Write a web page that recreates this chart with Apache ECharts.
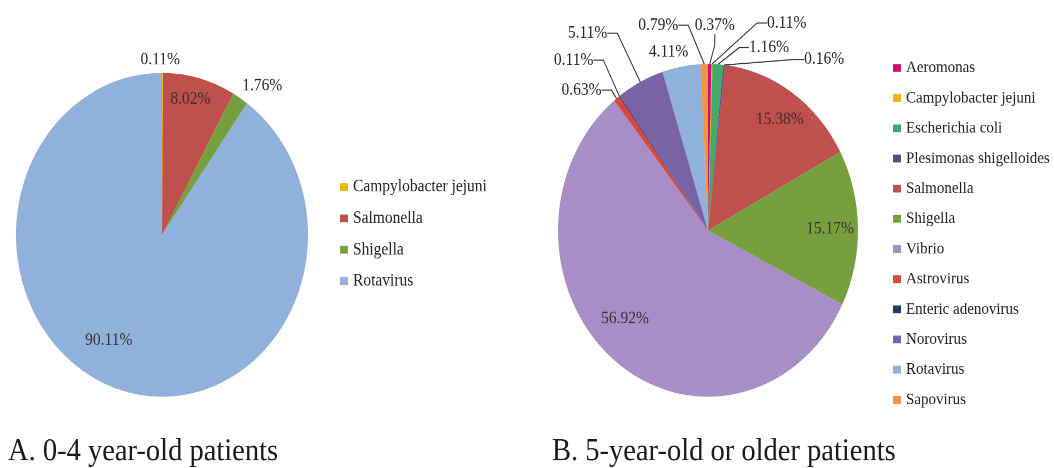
<!DOCTYPE html>
<html>
<head>
<meta charset="utf-8">
<script src="https://cdn.jsdelivr.net/npm/echarts@6/dist/echarts.min.js"></script>
<style>
  html { margin: 0; padding: 0; overflow: hidden; background: #ffffff; }
  body { margin: 0; padding: 0; width: 1054px; height: 468px; background: #ffffff; }
  #chart { width: 1054px; height: 422px; transform: scaleY(1.109); transform-origin: 0 0; }
</style>
</head>
<body>
<div id="chart"></div>
<script>
// ---- data ----
const namesA = ['Campylobacter jejuni', 'Salmonella', 'Shigella', 'Rotavirus'];
const valuesA = [0.11, 8.02, 1.76, 90.11];

const namesB = ['Aeromonas', 'Campylobacter jejuni', 'Escherichia coli', 'Plesimonas shigelloides',
  'Salmonella', 'Shigella', 'Vibrio', 'Astrovirus', 'Enteric adenovirus', 'Norovirus', 'Rotavirus', 'Sapovirus'];
const valuesB = [0.37, 0.11, 1.16, 0.16, 15.38, 15.17, 56.92, 0.63, 0.11, 5.11, 4.11, 0.79];

const titleA = 'A. 0-4 year-old patients';
const titleB = 'B. 5-year-old or older patients';

// ---- style ----
const colorMap = {
  'Aeromonas': '#C8146E',
  'Campylobacter jejuni': '#EFB60F',
  'Escherichia coli': '#45A96A',
  'Plesimonas shigelloides': '#5B4A8A',
  'Salmonella': '#C0504D',
  'Shigella': '#76A03E',
  'Vibrio': '#A98DC6',
  'Astrovirus': '#D9483B',
  'Enteric adenovirus': '#1F3B5C',
  'Norovirus': '#7A62A7',
  'Rotavirus': '#8FB1DC',
  'Sapovirus': '#F39443'
};
const FONT = 'Liberation Serif';

// label placement per slice: [position, showLine, shiftX, shiftY]
const labelStyleA = [
  ['outside', false, -37, -12],
  ['inside', false, 9, -49],
  ['outside', false, -13, -11],
  ['inside', false, -30, 23]
];
const labelStyleB = [
  ['outside', true, -30, -35],
  ['outside', true, 40, -37],
  ['outside', true, 16, -15],
  ['outside', true, 65, -5],
  ['inside', false, 28, -35],
  ['inside', false, 44, 0],
  ['inside', false, -34, 19],
  ['outside', true, 0, -7.5],
  ['outside', true, -11, -32.5],
  ['outside', true, -18, -44],
  ['outside', false, 22, -13],
  ['outside', true, -11, -35]
];

function buildData(names, values, styles) {
  return names.map((n, i) => ({
    name: n,
    value: values[i],
    itemStyle: { color: colorMap[n] },
    label: { position: styles[i][0], color: styles[i][0] === 'inside' ? '#3a3030' : '#262626' },
    labelLine: { show: styles[i][1] }
  }));
}

function makeLayout(styles) {
  return function (p) {
    const s = styles[p.dataIndex];
    if (!s) return {};
    return {
      x: p.labelRect.x + p.labelRect.width / 2 + s[2],
      y: p.labelRect.y + p.labelRect.height / 2 + s[3],
      align: 'center',
      verticalAlign: 'middle'
    };
  };
}

const pieCommon = {
  type: 'pie',
  startAngle: 90,
  clockwise: true,
  avoidLabelOverlap: false,
  silent: true,
  emphasis: { disabled: true },
  itemStyle: { borderWidth: 0 },
  label: {
    fontFamily: FONT,
    fontSize: 15.5,
    formatter: p => p.value.toFixed(2) + '%',
    distanceToLabelLine: 5
  },
  labelLine: {
    length: 0,
    length2: 10,
    lineStyle: { color: '#333333', width: 1 }
  }
};

const chart = echarts.init(document.getElementById('chart'), null, { renderer: 'canvas', devicePixelRatio: 2 });
chart.setOption({
  backgroundColor: '#ffffff',
  animation: false,
  graphic: [
    { type: 'text', left: 8, top: 393, silent: true,
      style: { text: titleA, fontFamily: FONT, fontSize: 28.5, fill: '#1a1a1a' } },
    { type: 'text', left: 552, top: 393, silent: true,
      style: { text: titleB, fontFamily: FONT, fontSize: 28.5, fill: '#1a1a1a' } }
  ],
  legend: [
    {
      data: namesA, orient: 'vertical', left: 340, top: 160.6,
      itemWidth: 8, itemHeight: 7, itemGap: 12.3, padding: 0,
      icon: 'rect', selectedMode: false,
      textStyle: { fontFamily: FONT, fontSize: 15.5, color: '#222222', lineHeight: 16 }
    },
    {
      data: namesB, orient: 'vertical', left: 893, top: 53.3,
      itemWidth: 8, itemHeight: 7, itemGap: 11.2, padding: 0,
      icon: 'rect', selectedMode: false,
      textStyle: { fontFamily: FONT, fontSize: 15, color: '#222222', lineHeight: 16 }
    }
  ],
  series: [
    Object.assign({}, pieCommon, {
      name: 'A', center: [162, 211.7], radius: 146,
      data: buildData(namesA, valuesA, labelStyleA),
      labelLayout: makeLayout(labelStyleA)
    }),
    Object.assign({}, pieCommon, {
      name: 'B', center: [708, 207.7], radius: 150,
      data: buildData(namesB, valuesB, labelStyleB),
      labelLayout: makeLayout(labelStyleB)
    })
  ]
});
</script>
</body>
</html>
